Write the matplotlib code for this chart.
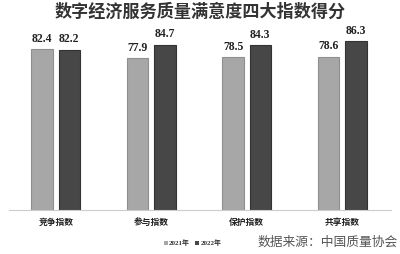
import matplotlib
matplotlib.use("Agg")
import matplotlib.pyplot as plt
from matplotlib.patches import Rectangle
import numpy as np

categories = ["竞争指数", "参与指数", "保护指数", "共享指数"]
series_names = ["2021年", "2022年"]
values_2021 = [82.4, 77.9, 78.5, 78.6]
values_2022 = [82.2, 84.7, 84.3, 86.3]
colors = ["#a7a7a7", "#474747"]
edges = ["#8f8f8f", "#333333"]

plt.rcParams['font.family'] = ['Noto Sans CJK SC', 'DejaVu Sans']

fig = plt.figure(figsize=(4.0, 2.54), dpi=100)
ax = fig.add_axes([0.0225, 0.173, 0.955, 0.709])

x = np.arange(len(categories))
w = 0.225
off = 0.142
for vals, c, ec, d in [(values_2021, colors[0], edges[0], -off), (values_2022, colors[1], edges[1], off)]:
    bars = ax.bar(x + d, vals, width=w, color=c, edgecolor=ec, linewidth=0.8)
    for b, v in zip(bars, vals):
        ax.annotate(f"{v:.1f}", (b.get_x() + b.get_width() / 2, v), xytext=(0, 3),
                    textcoords="offset points", ha="center", va="bottom",
                    fontsize=8.5, fontweight="bold", family="Liberation Serif", color="#222222")

ax.set_xlim(-0.49, 3.51)
ax.set_ylim(0, 92.2)
ax.set_yticks([])
ax.set_xticks([])
for s in ["top", "right", "left"]:
    ax.spines[s].set_visible(False)
ax.spines["bottom"].set_color("#cccccc")
ax.spines["bottom"].set_linewidth(0.8)

for i, cat in enumerate(categories):
    ax.text(i, -6.5, cat, ha="center", va="center", fontsize=6.3, fontweight="bold", color="#222222")

fig.text(0.5, 0.952, "数字经济服务质量满意度四大指数得分", ha="center", va="center",
         fontsize=12.3, fontweight="bold", color="#333333")

# legend
ly = 0.045
sq_w, sq_h = 4 / 400, 4 / 254
for sx, name, c in [(0.410, series_names[0], colors[0]), (0.488, series_names[1], colors[1])]:
    fig.patches.append(Rectangle((sx, ly - sq_h / 2), sq_w, sq_h, transform=fig.transFigure,
                                 facecolor=c, edgecolor="none"))
    fig.text(sx + 0.013, ly, name, ha="left", va="center", fontsize=5,
             fontweight="bold", color="#333333", family=["Liberation Serif", "Noto Sans CJK SC"])

fig.text(0.995, ly, "数据来源：中国质量协会", ha="right", va="center", fontsize=9.2, color="#555555")

fig.savefig("out.png", dpi=100, facecolor="white")
